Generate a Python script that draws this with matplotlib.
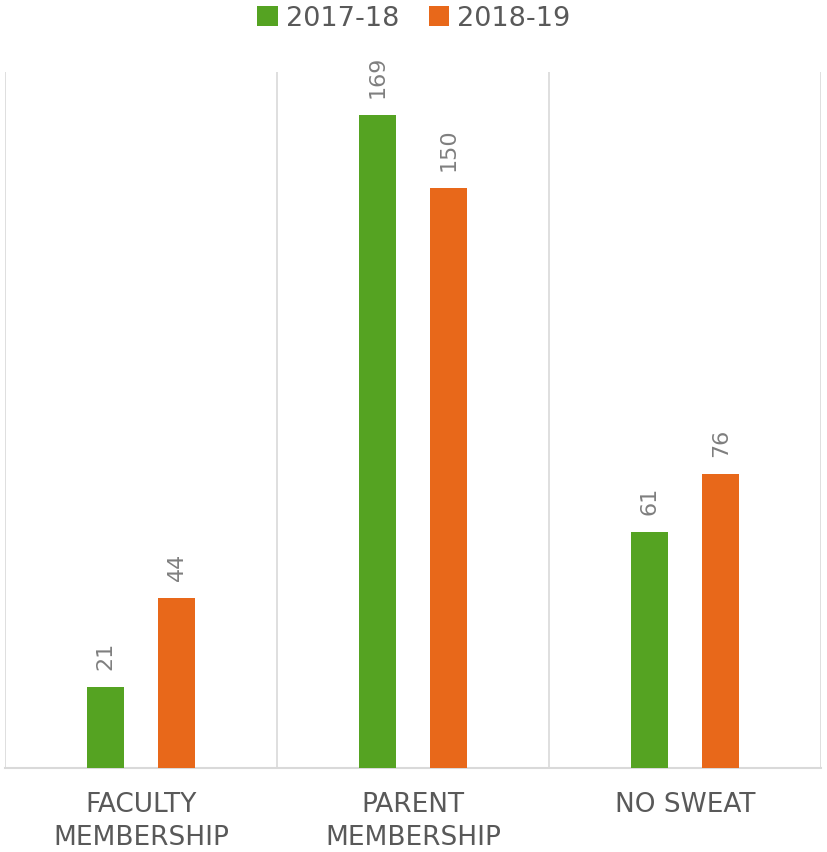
import matplotlib
matplotlib.use('Agg')
import matplotlib.pyplot as plt
import numpy as np

#%% Data
categories = ['FACULTY\nMEMBERSHIP', 'PARENT\nMEMBERSHIP', 'NO SWEAT']
series = ['2017-18', '2018-19']
values_1718 = [21, 169, 61]
values_1819 = [44, 150, 76]

COLOR = {'green': '#55A322', 'orange': '#E8681A', 'grid': '#D9D9D9',
         'text': '#595959', 'label': '#7F7F7F'}

#%% Plot
plt.rcParams['font.family'] = ['DejaVu Sans']
fig = plt.figure(figsize=(8.28, 8.52), dpi=100)
ax = fig.add_axes([5/828, 84/852, 816/828, 696/852])

x = np.arange(len(categories)) + 0.5
width = 0.136
b1 = ax.bar(x - 0.131, values_1718, width, color=COLOR['green'], label=series[0], zorder=3)
b2 = ax.bar(x + 0.131, values_1819, width, color=COLOR['orange'], label=series[1], zorder=3)

for bars in (b1, b2):
    for rect in bars:
        h = rect.get_height()
        ax.annotate(str(h), xy=(rect.get_x() + rect.get_width()/2, h), xytext=(0, 12),
                    textcoords='offset points', rotation=90, ha='center', va='bottom',
                    fontsize=16, color=COLOR['label'])

# category separators
for xv in range(len(categories) + 1):
    ax.axvline(xv, color=COLOR['grid'], linewidth=1.2, zorder=1)

ax.set_xlim(0, 3.0)
ax.set_ylim(0, 180)
ax.set_yticks([])
ax.set_xticks(x)
ax.set_xticklabels(categories, fontsize=19, color=COLOR['text'], linespacing=1.35)
ax.tick_params(axis='x', length=0, pad=17)
for s in ['top', 'left', 'right']:
    ax.spines[s].set_visible(False)
ax.spines['bottom'].set_color(COLOR['grid'])
ax.spines['bottom'].set_linewidth(1.5)

fig.legend(handles=[b1, b2], labels=series, loc='upper center', bbox_to_anchor=(0.5, 1.022),
           ncol=2, frameon=False, fontsize=19.5, labelcolor=COLOR['text'],
           handlelength=0.75, handleheight=0.75, handletextpad=0.3, columnspacing=1.1)

fig.savefig('out.png', dpi=100)
